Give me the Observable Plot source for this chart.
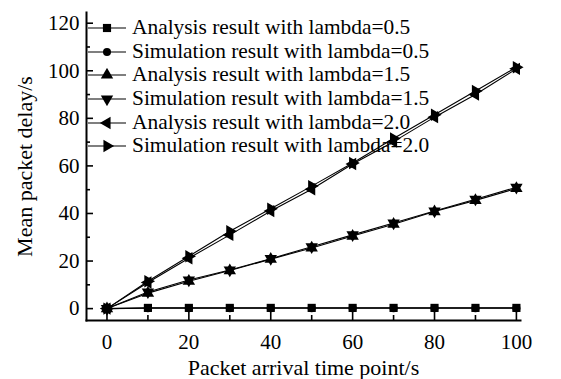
<!DOCTYPE html>
<html>
<head>
<meta charset="utf-8">
<script src="https://cdn.jsdelivr.net/npm/d3@7"></script>
<script src="https://cdn.jsdelivr.net/npm/@observablehq/plot@0.6"></script>
<style>
  html, body { margin: 0; padding: 0; background: #fff; }
  #wrap { position: relative; width: 561px; height: 379px; font-family: "Liberation Serif", "Times New Roman", serif; }
  #legend { position: absolute; left: 88px; top: 16px; font-size: 21.4px; color: #000; }
  #legend .row { height: 23.7px; line-height: 23.7px; display: flex; align-items: center; white-space: nowrap; }
  #legend svg { margin-right: 6px; }
  g[aria-label="x-axis label"] text, g[aria-label="y-axis label"] text { font-size: 22px; }
</style>
</head>
<body>
<div id="wrap"><div id="chart"></div><div id="legend"></div></div>
<script>
const xs = [0, 10, 20, 30, 40, 50, 60, 70, 80, 90, 100];
const analysis05   = [0, 0.3, 0.3, 0.3, 0.3, 0.3, 0.3, 0.3, 0.3, 0.3, 0.3];
const simulation05 = [0, 0.2, 0.2, 0.2, 0.2, 0.2, 0.2, 0.2, 0.2, 0.2, 0.2];
const analysis15   = [0, 6.5, 11.5, 16, 20.8, 25.5, 30.5, 35.5, 40.8, 45.5, 50.5];
const simulation15 = [0, 7, 12, 16.2, 21, 26, 31, 36, 41, 46, 51];
const analysis20   = [0, 11, 21.2, 31, 41, 50.2, 60.8, 70.2, 80.5, 90, 100.8];
const simulation20 = [0, 11.5, 22, 32.5, 42, 51.5, 61.2, 71.5, 81.5, 91.5, 101.5];
const seriesNames = [
  "Analysis result with lambda=0.5",
  "Simulation result with lambda=0.5",
  "Analysis result with lambda=1.5",
  "Simulation result with lambda=1.5",
  "Analysis result with lambda=2.0",
  "Simulation result with lambda=2.0"
];
const xTicks = [0, 20, 40, 60, 80, 100];
const xMinor = [10, 30, 50, 70, 90];
const yTicks = [0, 20, 40, 60, 80, 100, 120];
const yMinor = [10, 30, 50, 70, 90, 110];

const seriesValues = [analysis05, simulation05, analysis15, simulation15, analysis20, simulation20];
const markers = [
  {symbol: "square", rotate: 0},
  {symbol: "circle", rotate: 0},
  {symbol: "triangle", rotate: 0},
  {symbol: "triangle", rotate: 180},
  {symbol: "triangle", rotate: -90},
  {symbol: "triangle", rotate: 90}
];
const series = seriesNames.map((name, i) => ({
  name, ...markers[i],
  data: xs.map((x, j) => ({x, y: seriesValues[i][j]}))
}));

const marks = [];
for (const s of series) {
  marks.push(Plot.line(s.data, {x: "x", y: "y", stroke: "#000", strokeWidth: 1.1}));
}
for (const s of series) {
  marks.push(Plot.dot(s.data, {x: "x", y: "y", symbol: s.symbol, rotate: s.rotate, r: s.symbol === "circle" ? 4 : 4.6, fill: "#000", stroke: "none"}));
}
marks.push(
  Plot.axisX({ticks: xTicks, tickSize: -10, tickPadding: 24, strokeWidth: 1.6, fontSize: 21, label: "Packet arrival time point/s", labelArrow: "none", labelAnchor: "center", labelOffset: 54}),
  Plot.axisX({ticks: xMinor, tickSize: -5, tickFormat: () => "", strokeWidth: 1.6, label: null}),
  Plot.axisY({ticks: yTicks, tickSize: -7, tickPadding: 14, strokeWidth: 1.6, fontSize: 21, label: "Mean packet delay/s", labelArrow: "none", labelAnchor: "center", labelOffset: 70}),
  Plot.axisY({ticks: yMinor, tickSize: -4, tickFormat: () => "", strokeWidth: 1.6, label: null}),
  Plot.frame({anchor: "left", stroke: "#000", strokeWidth: 2}),
  Plot.frame({anchor: "bottom", stroke: "#000", strokeWidth: 2})
);

const chart = Plot.plot({
  width: 561,
  height: 379,
  marginLeft: 86,
  marginRight: 41,
  marginTop: 12,
  marginBottom: 59,
  style: {fontFamily: "'Liberation Serif', 'Times New Roman', serif", fontSize: "21px", color: "#000", background: "#fff"},
  x: {domain: [-5, 101]},
  y: {domain: [-5, 124.5]},
  marks
});
document.getElementById("chart").appendChild(chart);

// legend
const legend = d3.select("#legend");
for (const s of series) {
  const row = legend.append("div").attr("class", "row");
  const svg = row.append("svg").attr("width", 38).attr("height", 14);
  svg.append("line").attr("x1", 0).attr("x2", 38).attr("y1", 7).attr("y2", 7).attr("stroke", "#000").attr("stroke-width", 1.2);
  const sym = s.symbol === "square" ? d3.symbolSquare : s.symbol === "circle" ? d3.symbolCircle : d3.symbolTriangle;
  const size = s.symbol === "circle" ? Math.PI * 16 : Math.PI * 4.6 * 4.6;
  svg.append("path").attr("d", d3.symbol(sym, size)()).attr("transform", `translate(19,7) rotate(${s.rotate})`).attr("fill", "#000");
  row.append("span").text(s.name);
}
</script>
</body>
</html>
